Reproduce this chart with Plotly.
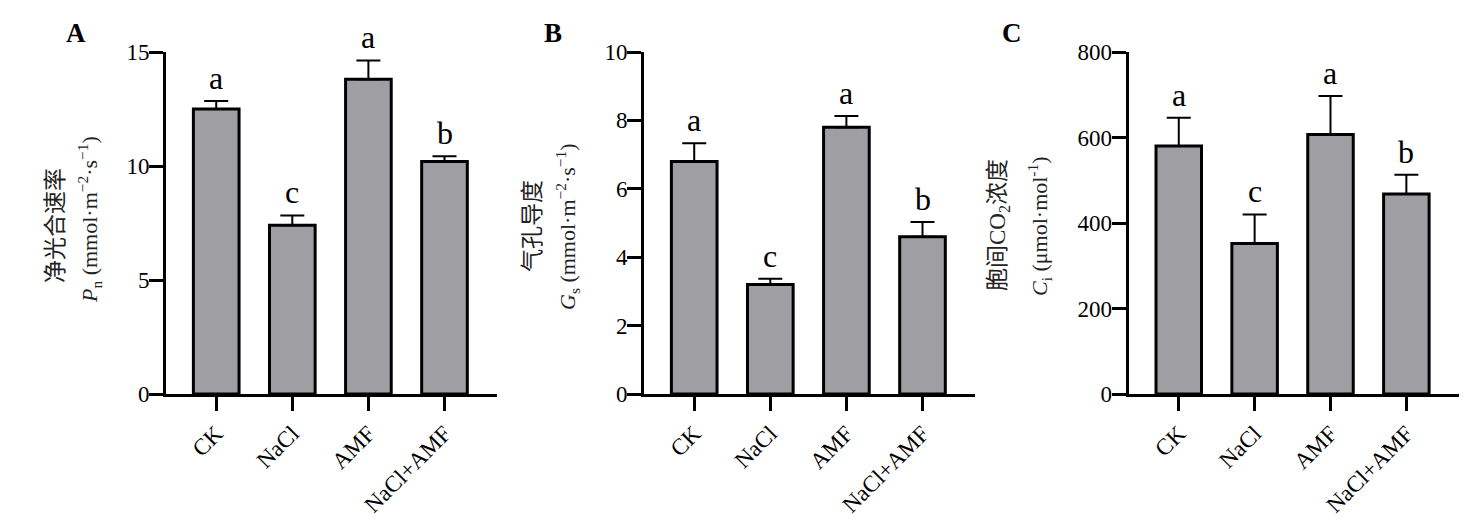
import plotly.graph_objects as go

W, H = 1477, 531

categories = ["CK", "NaCl", "AMF", "NaCl+AMF"]

pn_values = [12.5, 7.4, 13.8, 10.2]
pn_errors = [0.35, 0.43, 0.83, 0.23]
gs_values = [6.8, 3.2, 7.8, 4.6]
gs_errors = [0.53, 0.17, 0.33, 0.43]
ci_values = [580, 352, 607, 468]
ci_errors = [66, 68, 90, 45]
sig_letters = ["a", "c", "a", "b"]

panel_labels = ["A", "B", "C"]
y_title_cn = ["净光合速率", "气孔导度", "胞间CO<sub>2</sub>浓度"]
y_title_unit = [
    "<i>P</i><sub>n</sub> (mmol·m<sup>−2</sup>·s<sup>−1</sup>)",
    "<i>G</i><sub>s</sub> (mmol·m<sup>−2</sup>·s<sup>−1</sup>)",
    "<i>C</i><sub>i</sub> (μmol·mol<sup>-1</sup>)",
]
y_ranges = [[0, 15], [0, 10], [0, 800]]
y_dticks = [5, 2, 200]

FONT = "Liberation Serif, Times New Roman, Noto Sans CJK SC"
BAR_COLOR = "#9f9fa3"

# pixel layout
x_domains_px = [(166, 497), (644, 975), (1128.7, 1458.7)]
y_top_px, y_bot_px = 52, 394
cn_pos = [(55, 226), (532, 226), (999, 225)]
unit_pos = [(89, 220), (567, 227), (1039, 226)]
label_pos = [(76, 33), (553, 33), (1012, 33)]

def px_x(p):
    return p / W

def px_y(p):
    return 1 - p / H

series = [(pn_values, pn_errors), (gs_values, gs_errors), (ci_values, ci_errors)]

fig = go.Figure()
annotations = []
for i, (vals, errs) in enumerate(series):
    sfx = "" if i == 0 else str(i + 1)
    fig.add_trace(go.Bar(
        x=categories, y=vals,
        xaxis="x" + sfx, yaxis="y" + sfx,
        width=0.6,
        marker=dict(color=BAR_COLOR, line=dict(color="black", width=3)),
        error_y=dict(type="data", array=errs, arrayminus=[0] * len(errs),
                     symmetric=False, color="black", thickness=2, width=12),
        showlegend=False,
        hoverinfo="skip",
    ))
    xa = dict(
        domain=[px_x(x_domains_px[i][0]), px_x(x_domains_px[i][1])],
        anchor="y" + sfx,
        range=[-0.66, 3.69],
        showline=True, linewidth=3, linecolor="black",
        ticks="outside", ticklen=14, tickwidth=3, tickcolor="black",
        tickangle=-45,
        tickfont=dict(family=FONT, size=23, color="black"),
        showgrid=False, zeroline=False, automargin=False,
        categoryorder="array", categoryarray=categories,
    )
    ya = dict(
        domain=[px_y(y_bot_px), px_y(y_top_px)],
        anchor="x" + sfx,
        range=y_ranges[i], dtick=y_dticks[i], tick0=0,
        showline=True, linewidth=3, linecolor="black",
        ticks="outside", ticklen=14, tickwidth=3, tickcolor="black",
        tickfont=dict(family=FONT, size=23, color="black"),
        ticklabelstandoff=-5,
        showgrid=False, zeroline=False, automargin=False,
    )
    fig.update_layout(**{"xaxis" + sfx: xa, "yaxis" + sfx: ya})

    for c, v, e, L in zip(categories, vals, errs, sig_letters):
        annotations.append(dict(
            x=c, y=v + e, xref="x" + sfx, yref="y" + sfx,
            text=L, showarrow=False, yanchor="bottom", xanchor="center",
            yshift=3, font=dict(family=FONT, size=32, color="black"),
        ))
    annotations.append(dict(
        x=px_x(cn_pos[i][0]), y=px_y(cn_pos[i][1]), xref="paper", yref="paper",
        text=y_title_cn[i], textangle=-90, showarrow=False,
        xanchor="center", yanchor="middle",
        font=dict(family=FONT, size=23, color="#222"),
    ))
    annotations.append(dict(
        x=px_x(unit_pos[i][0]), y=px_y(unit_pos[i][1]), xref="paper", yref="paper",
        text=y_title_unit[i], textangle=-90, showarrow=False,
        xanchor="center", yanchor="middle",
        font=dict(family=FONT, size=22, color="#222"),
    ))
    annotations.append(dict(
        x=px_x(label_pos[i][0]), y=px_y(label_pos[i][1]), xref="paper", yref="paper",
        text="<b>" + panel_labels[i] + "</b>", showarrow=False,
        xanchor="center", yanchor="middle",
        font=dict(family=FONT, size=27, color="black"),
    ))

fig.update_layout(
    template="none",
    width=W, height=H,
    autosize=False,
    margin=dict(l=0, r=0, t=0, b=0, pad=0),
    paper_bgcolor="white", plot_bgcolor="white",
    annotations=annotations,
    showlegend=False,
)

fig.write_html(
    "out.html",
    config={"displayModeBar": False},
    post_script="document.body.style.margin='0';document.body.style.overflow='hidden';",
)
